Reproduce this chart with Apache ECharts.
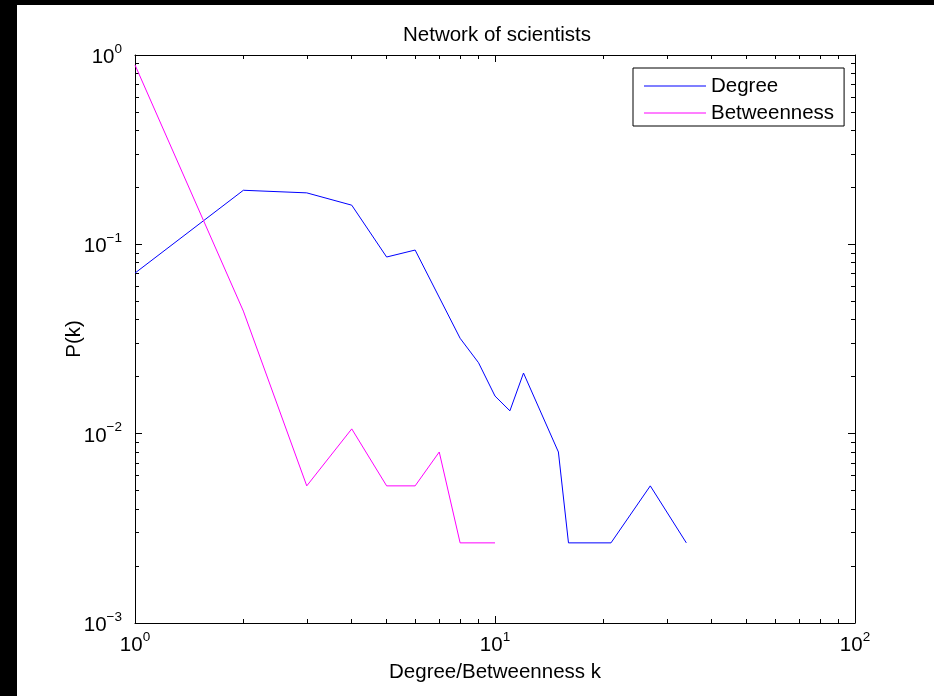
<!DOCTYPE html>
<html>
<head>
<meta charset="utf-8">
<script src="https://cdn.jsdelivr.net/npm/echarts@6/dist/echarts.min.js"></script>
<style>
html,body{margin:0;padding:0;background:#fff;}
#wrap{position:relative;width:934px;height:696px;background:#000;}
#chart{position:absolute;left:17px;top:5px;width:917px;height:691px;background:#fff;}
</style>
</head>
<body>
<div id="wrap"><div id="chart"></div></div>
<script>
// ---- data ----
const degreeK = [1, 2, 3, 4, 5, 6, 8, 9, 10, 11, 12, 15, 16, 21, 27, 34];
const degreeP = [0.0705, 0.193, 0.187, 0.161, 0.0857, 0.0933, 0.0319, 0.0237, 0.0158, 0.0132, 0.0209, 0.0080, 0.00265, 0.00265, 0.0053, 0.00265];
const betweenK = [1, 2, 3, 4, 5, 6, 7, 8, 10];
const betweenP = [0.886, 0.0444, 0.0053, 0.0106, 0.0053, 0.0053, 0.0080, 0.00265, 0.00265];
const xMajor = [1, 10, 100];
const xMinor = [2, 3, 4, 5, 6, 7, 8, 9, 20, 30, 40, 50, 60, 70, 80, 90];
const yMajor = [0.001, 0.01, 0.1, 1];
const yMinor = [0.002, 0.003, 0.004, 0.005, 0.006, 0.007, 0.008, 0.009,
                0.02, 0.03, 0.04, 0.05, 0.06, 0.07, 0.08, 0.09,
                0.2, 0.3, 0.4, 0.5, 0.6, 0.7, 0.8, 0.9];
const titleText = 'Network of scientists';
const xName = 'Degree/Betweenness k';
const yName = 'P(k)';
const seriesNames = ['Degree', 'Betweenness'];
const seriesColors = ['#0000ff', '#ff00ff'];

const FONT = '"Liberation Sans", Arial, Helvetica, sans-serif';
const FS = 20.5;
const OX = 17, OY = 5; // chart div offset within page

function pow10Label(v) {
  const e = Math.round(Math.log10(v));
  const s = e < 0 ? '\u2212' + (-e) : String(e);
  return '{b|10}{s|' + s + '}';
}
const rich = {
  b: { fontSize: FS, fontFamily: FONT, color: '#000', verticalAlign: 'bottom' },
  s: { fontSize: 13.5, fontFamily: FONT, color: '#000', verticalAlign: 'bottom', padding: [0, 0, 12, 0] }
};

function pairs(xs, ys) { return xs.map((x, i) => [x, ys[i]]); }

function axisPair(kind, pos, isMajor, withLabel, withLine) {
  const isX = kind === 'x';
  return {
    type: 'log', logBase: 10,
    min: isX ? 1 : 0.001, max: isX ? 100 : 1,
    position: pos,
    splitLine: { show: false },
    minorTick: { show: false },
    axisLine: { show: withLine, lineStyle: { color: '#000', width: 1 } },
    axisTick: {
      show: true, inside: true, length: isMajor ? 7 : 4,
      customValues: isX ? (isMajor ? xMajor : xMinor) : (isMajor ? yMajor : yMinor),
      lineStyle: { color: '#000', width: 1 }
    },
    axisLabel: withLabel ? {
      show: true,
      customValues: isX ? xMajor : yMajor,
      formatter: pow10Label,
      rich: rich,
      margin: isX ? 7 : 13
    } : { show: false }
  };
}

const xAxes = [
  Object.assign(axisPair('x', 'bottom', true, true, true), {
    name: xName, nameLocation: 'middle', nameGap: 39, nameMoveOverlap: false,
    nameTextStyle: { fontSize: FS, fontFamily: FONT, color: '#000' }
  }),
  axisPair('x', 'bottom', false, false, false),
  axisPair('x', 'top', true, false, true),
  axisPair('x', 'top', false, false, false)
];
const yAxes = [
  Object.assign(axisPair('y', 'left', true, true, true), {
    name: yName, nameLocation: 'middle', nameGap: 50, nameRotate: 90, nameMoveOverlap: false,
    nameTextStyle: { fontSize: FS, fontFamily: FONT, color: '#000' }
  }),
  axisPair('y', 'left', false, false, false),
  axisPair('y', 'right', true, false, true),
  axisPair('y', 'right', false, false, false)
];

const chart = echarts.init(document.getElementById('chart'), null, { renderer: 'canvas' });
chart.setOption({
  animation: false,
  backgroundColor: '#fff',
  title: {
    text: titleText, left: 492 - OX, top: 20 - OY, textAlign: 'center',
    textStyle: { fontSize: FS, fontWeight: 'normal', fontFamily: FONT, color: '#000' }
  },
  legend: {
    orient: 'vertical', left: 633 - OX, top: 68 - OY,
    backgroundColor: '#fff', borderColor: '#000', borderWidth: 1,
    padding: [7.5, 10, 2.5, 11], itemGap: 6,
    itemWidth: 62, itemHeight: 1, icon: 'rect',
    itemStyle: { borderWidth: 0 },
    inactiveColor: '#ccc',
    textStyle: { fontSize: FS, fontFamily: FONT, color: '#000', lineHeight: 20 },
    data: seriesNames.map((n, i) => ({ name: n, itemStyle: { color: seriesColors[i], borderWidth: 0, opacity: 1 } }))
  },
  grid: { left: 135 - OX, right: 934 - 855, top: 55 - OY, bottom: 696 - 623, containLabel: false },
  xAxis: xAxes,
  yAxis: yAxes,
  series: [
    { name: seriesNames[0], type: 'line', xAxisIndex: 0, yAxisIndex: 0, data: pairs(degreeK, degreeP),
      showSymbol: false, symbol: 'none', lineStyle: { color: seriesColors[0], width: 1 }, itemStyle: { color: seriesColors[0] } },
    { name: seriesNames[1], type: 'line', xAxisIndex: 0, yAxisIndex: 0, data: pairs(betweenK, betweenP),
      showSymbol: false, symbol: 'none', lineStyle: { color: seriesColors[1], width: 1 }, itemStyle: { color: seriesColors[1] } }
  ]
});
</script>
</body>
</html>
